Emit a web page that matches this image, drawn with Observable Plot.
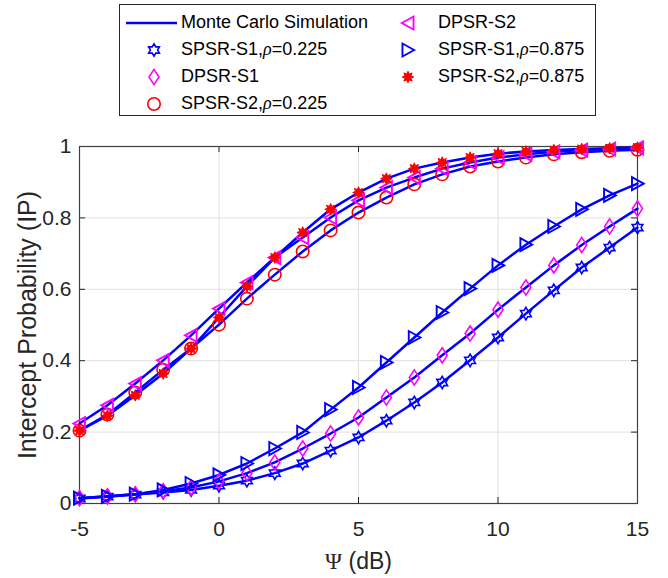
<!DOCTYPE html>
<html><head><meta charset="utf-8">
<script src="https://cdn.jsdelivr.net/npm/d3@7"></script>
<script src="https://cdn.jsdelivr.net/npm/@observablehq/plot@0.6"></script>
<style>
body{margin:0;background:#fff;}
#wrap{position:relative;width:668px;height:578px;font-family:"Liberation Sans",Arial,sans-serif;}
#legend{position:absolute;left:119px;top:4px;width:477px;height:112px;border:1px solid #262626;background:#fff;box-sizing:border-box;}
#legend svg{position:absolute;left:0;top:0;}
.item{position:absolute;font-size:18px;color:#000;white-space:nowrap;line-height:20px;height:20px;}
.rho{font-family:"Liberation Serif","DejaVu Serif",serif;font-style:italic;}
</style></head><body><div id="wrap"><div id="legend"></div><div id="chart"></div></div>
<script>
// ---- data ----
const xValues = [-5,-4,-3,-2,-1,0,1,2,3,4,5,6,7,8,9,10,11,12,13,14,15];
const spsrS1_0225 = [0.014,0.019,0.025,0.031,0.038,0.050,0.064,0.085,0.112,0.148,0.185,0.232,0.283,0.339,0.401,0.465,0.532,0.597,0.661,0.717,0.773];
const dpsrS1      = [0.015,0.020,0.026,0.034,0.045,0.062,0.085,0.115,0.154,0.196,0.241,0.297,0.353,0.415,0.476,0.543,0.605,0.667,0.724,0.776,0.826];
const spsrS2_0225 = [0.204,0.249,0.311,0.375,0.434,0.501,0.574,0.641,0.706,0.765,0.815,0.857,0.894,0.922,0.944,0.958,0.969,0.978,0.984,0.988,0.991];
const dpsrS2      = [0.224,0.275,0.336,0.401,0.471,0.546,0.619,0.689,0.745,0.801,0.849,0.885,0.913,0.938,0.955,0.969,0.978,0.985,0.990,0.993,0.996];
const spsrS1_0875 = [0.015,0.020,0.026,0.038,0.056,0.080,0.112,0.154,0.199,0.263,0.325,0.395,0.465,0.535,0.602,0.667,0.725,0.776,0.824,0.863,0.896];
const spsrS2_0875 = [0.204,0.246,0.303,0.364,0.434,0.521,0.608,0.689,0.759,0.824,0.871,0.910,0.938,0.955,0.969,0.980,0.986,0.990,0.993,0.995,0.997];
const xTicks = [-5,0,5,10,15];
const xTickLabels = ["-5","0","5","10","15"];
const yTicks = [0,0.2,0.4,0.6,0.8,1];
const yTickLabels = ["0","0.2","0.4","0.6","0.8","1"];
const legendLabels = ["Monte Carlo Simulation","SPSR-S1,ρ=0.225","DPSR-S1","SPSR-S2,ρ=0.225","DPSR-S2","SPSR-S1,ρ=0.875","SPSR-S2,ρ=0.875"];
const xLabel = "Ψ (dB)";
const yLabel = "Intercept Probability (IP)";

// ---- symbols ----
const rad = s => Math.sqrt(s/Math.PI);
const hexagram = {draw(c,s){const r=rad(s),ri=r/Math.sqrt(3);for(let k=0;k<12;k++){const a=-Math.PI/2+k*Math.PI/6,rr=k%2?ri:r,px=rr*Math.cos(a),py=rr*Math.sin(a);k?c.lineTo(px,py):c.moveTo(px,py);}c.closePath();}};
const diamond = {draw(c,s){const r=rad(s);c.moveTo(0,-r);c.lineTo(0.66*r,0);c.lineTo(0,r);c.lineTo(-0.66*r,0);c.closePath();}};
const circle = {draw(c,s){const r=rad(s);c.moveTo(r,0);c.arc(0,0,r,0,2*Math.PI);c.closePath();}};
const triLeft = {draw(c,s){const r=rad(s);c.moveTo(-0.95*r,0);c.lineTo(0.85*r,-r);c.lineTo(0.85*r,r);c.closePath();}};
const triRight = {draw(c,s){const r=rad(s);c.moveTo(0.95*r,0);c.lineTo(-0.85*r,-r);c.lineTo(-0.85*r,r);c.closePath();}};
const aster = {draw(c,s){const r=rad(s),ri=0.55*r;for(let k=0;k<16;k++){const a=-Math.PI/2+k*Math.PI/8,rr=k%2?ri:r,px=rr*Math.cos(a),py=rr*Math.sin(a);k?c.lineTo(px,py):c.moveTo(px,py);}c.closePath();}};

const BLUE="#0000ff", MAG="#ff00ff", RED="#ff0000";
const series = [
  {values: spsrS1_0225, symbol: hexagram, stroke: BLUE, fill: "none", r: 6.2, sw: 1.6},
  {values: dpsrS1,      symbol: diamond,  stroke: MAG,  fill: "none", r: 7.6, sw: 1.6},
  {values: spsrS2_0225, symbol: circle,   stroke: RED,  fill: "none", r: 6.2, sw: 1.6},
  {values: dpsrS2,      symbol: triLeft,  stroke: MAG,  fill: "none", r: 6.5, sw: 1.9},
  {values: spsrS1_0875, symbol: triRight, stroke: BLUE, fill: "none", r: 6.5, sw: 1.9},
  {values: spsrS2_0875, symbol: aster,    stroke: RED,  fill: RED,    r: 5.8, sw: 1}
];
const rows = series.flatMap((s,si)=>xValues.map((x,i)=>({x, y: s.values[i], s: si})));
const xLab = new Map(xTicks.map((t,i)=>[t,xTickLabels[i]]));
const yLab = new Map(yTicks.map((t,i)=>[t,yTickLabels[i]]));
const tickLenY = 6/357, tickLenX = 6/27.9;

const chart = Plot.plot({
  width: 668, height: 578,
  marginLeft: 79, marginRight: 31, marginTop: 146, marginBottom: 75,
  style: {fontFamily: "Liberation Sans, Arial, sans-serif", color: "#262626", background: "#fff"},
  x: {domain: [-5,15]},
  y: {domain: [0,1]},
  marks: [
    Plot.ruleX(xTicks, {stroke: "#e0e0e0", strokeWidth: 1}),
    Plot.ruleY(yTicks, {stroke: "#e0e0e0", strokeWidth: 1}),
    Plot.ruleX(xTicks, {y1: 0, y2: tickLenY, stroke: "#262626"}),
    Plot.ruleX(xTicks, {y1: 1 - tickLenY, y2: 1, stroke: "#262626"}),
    Plot.ruleY(yTicks, {x1: -5, x2: -5 + tickLenX, stroke: "#262626"}),
    Plot.ruleY(yTicks, {x1: 15 - tickLenX, x2: 15, stroke: "#262626"}),
    Plot.frame({stroke: "#404040", strokeWidth: 1.2}),
    Plot.axisX(xTicks, {tickSize: 0, tickPadding: 18, fontSize: 21, tickFormat: d => xLab.get(d), label: null}),
    Plot.axisY(yTicks, {tickSize: 0, tickPadding: 8, fontSize: 21, tickFormat: d => yLab.get(d), label: null}),
    Plot.line(rows, {x: "x", y: "y", z: "s", stroke: BLUE, strokeWidth: 2.5}),
    ...series.map((s,si)=>Plot.dot(rows.filter(d=>d.s===si), {x: "x", y: "y", symbol: s.symbol, r: s.r, stroke: s.stroke, fill: s.fill, strokeWidth: s.sw})),
    Plot.text([yLabel], {frameAnchor: "left", textAnchor: "middle", lineAnchor: "middle", dx: -52, rotate: -90, fontSize: 25, fill: "#262626"}),
    Plot.text([xLabel], {frameAnchor: "bottom", textAnchor: "middle", lineAnchor: "middle", dy: 58, fontSize: 23, fill: "#262626"})
  ]
});
document.getElementById("chart").appendChild(chart);
// serif Psi as in the reference
d3.select(chart).selectAll("text").filter(function(){return this.textContent === xLabel;}).each(function(){
  const t = d3.select(this); t.text(null);
  t.append("tspan").style("font-family","Liberation Serif, serif").text("Ψ");
  t.append("tspan").text(" (dB)");
});

// ---- legend ----
const L = document.getElementById("legend");
const LX = 119, LY = 4;
const svg = d3.select(L).append("svg").attr("width", 477).attr("height", 112);
svg.append("line").attr("x1",125-LX).attr("x2",176-LX).attr("y1",22-LY).attr("y2",22-LY).attr("stroke",BLUE).attr("stroke-width",2.5);
const legItems = [
  {s: 0, mx: 153, my: 49, tx: 181},
  {s: 1, mx: 153, my: 76, tx: 181},
  {s: 2, mx: 153, my: 103, tx: 181},
  {s: 3, mx: 407, my: 22, tx: 438},
  {s: 4, mx: 407, my: 49, tx: 438},
  {s: 5, mx: 407, my: 76, tx: 438}
];
legItems.forEach(it=>{
  const s = series[it.s];
  const p = d3.path(); s.symbol.draw(p, s.r*s.r*Math.PI);
  svg.append("path").attr("d", p.toString()).attr("transform", `translate(${it.mx-LX},${it.my-LY})`)
    .attr("stroke", s.stroke).attr("fill", s.fill).attr("stroke-width", s.sw);
});
function addText(label, x, y){
  const d = document.createElement("div"); d.className = "item";
  d.style.left = (x-LX-1)+"px"; d.style.top = (y-LY-11)+"px";
  const parts = label.split("ρ");
  d.textContent = parts[0];
  if (parts.length>1){ const sp=document.createElement("span"); sp.className="rho"; sp.textContent="ρ"; d.appendChild(sp); d.appendChild(document.createTextNode(parts[1])); }
  L.appendChild(d);
}
addText(legendLabels[0], 181, 22);
legItems.forEach(it=>addText(legendLabels[it.s+1], it.tx, it.my));
</script></body></html>
